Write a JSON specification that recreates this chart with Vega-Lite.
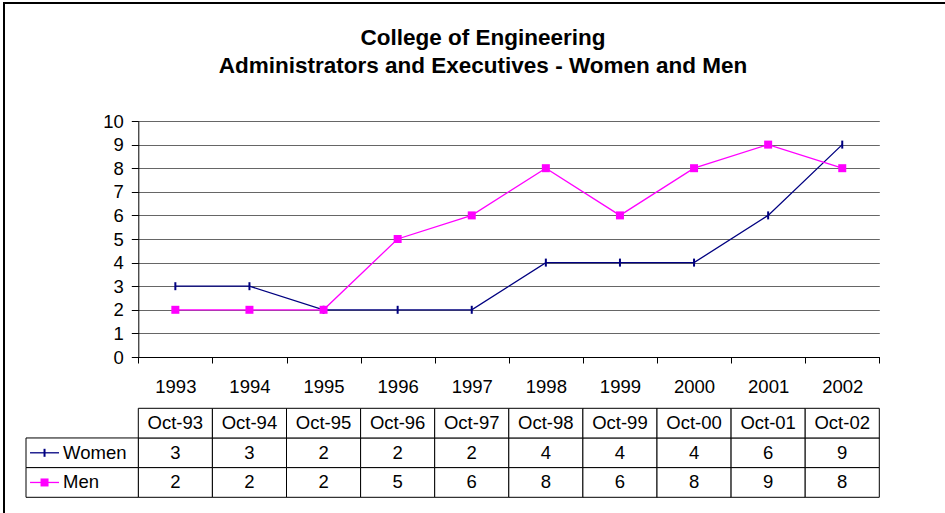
{
  "$schema": "https://vega.github.io/schema/vega-lite/v6.json",
  "width": 941,
  "height": 510,
  "autosize": {"type": "none"},
  "padding": {"left": 4, "top": 3, "right": 0, "bottom": 0},
  "background": "white",
  "config": {
    "view": {"stroke": "black", "strokeWidth": 2, "strokeDash": [941, 1451, 510], "fill": "white"},
    "font": "Liberation Sans"
  },
  "title": {
    "text": ["College of Engineering", "Administrators and Executives - Women and Men"],
    "font": "Liberation Sans",
    "fontSize": 22.5,
    "fontWeight": "bold",
    "lineHeight": 28,
    "color": "black",
    "anchor": "middle",
    "frame": "group",
    "offset": -74,
    "dx": 8.5
  },
  "datasets": {
    "counts": [
      {"year": "1993", "date": "Oct-93", "series": "Women", "value": 3},
      {"year": "1994", "date": "Oct-94", "series": "Women", "value": 3},
      {"year": "1995", "date": "Oct-95", "series": "Women", "value": 2},
      {"year": "1996", "date": "Oct-96", "series": "Women", "value": 2},
      {"year": "1997", "date": "Oct-97", "series": "Women", "value": 2},
      {"year": "1998", "date": "Oct-98", "series": "Women", "value": 4},
      {"year": "1999", "date": "Oct-99", "series": "Women", "value": 4},
      {"year": "2000", "date": "Oct-00", "series": "Women", "value": 4},
      {"year": "2001", "date": "Oct-01", "series": "Women", "value": 6},
      {"year": "2002", "date": "Oct-02", "series": "Women", "value": 9},
      {"year": "1993", "date": "Oct-93", "series": "Men", "value": 2},
      {"year": "1994", "date": "Oct-94", "series": "Men", "value": 2},
      {"year": "1995", "date": "Oct-95", "series": "Men", "value": 2},
      {"year": "1996", "date": "Oct-96", "series": "Men", "value": 5},
      {"year": "1997", "date": "Oct-97", "series": "Men", "value": 6},
      {"year": "1998", "date": "Oct-98", "series": "Men", "value": 8},
      {"year": "1999", "date": "Oct-99", "series": "Men", "value": 6},
      {"year": "2000", "date": "Oct-00", "series": "Men", "value": 8},
      {"year": "2001", "date": "Oct-01", "series": "Men", "value": 9},
      {"year": "2002", "date": "Oct-02", "series": "Men", "value": 8}
    ]
  },
  "data": {"name": "counts"},
  "resolve": {"scale": {"x": "independent", "y": "independent"}},
  "layer": [
    {
      "encoding": {
        "x": {
          "field": "year", "type": "nominal",
          "scale": {"type": "band", "domain": ["1993","1994","1995","1996","1997","1998","1999","2000","2001","2002"], "range": [134.3, 875.3], "paddingInner": 0, "paddingOuter": 0},
          "axis": {"orient": "bottom", "offset": -156, "tickBand": "extent", "tickSize": 6, "tickColor": "black", "domainColor": "black", "labelFont": "Liberation Sans", "labelFontSize": 18.5, "labelColor": "black", "labelPadding": 14, "labelAngle": 0, "title": null, "grid": false}
        },
        "y": {
          "field": "value", "type": "quantitative",
          "scale": {"domain": [0, 10], "range": [354, 118], "nice": false},
          "axis": {"orient": "left", "offset": -134.3, "values": [0,1,2,3,4,5,6,7,8,9,10], "tickSize": 7, "tickColor": "black", "domainColor": "black", "labelFont": "Liberation Sans", "labelFontSize": 18.5, "labelColor": "black", "labelPadding": 8, "title": null, "grid": true, "gridColor": "#666666", "gridWidth": 1}
        }
      },
      "layer": [
        {
          "mark": {"type": "line", "strokeWidth": 1.3},
          "encoding": {
            "color": {"field": "series", "type": "nominal", "scale": {"domain": ["Women", "Men"], "range": ["#000080", "#FF00FF"]}, "legend": null}
          }
        },
        {
          "transform": [{"filter": "datum.series === 'Women'"}],
          "mark": {"type": "point", "shape": "M0,-1V1", "size": 64, "filled": false, "stroke": "#000080", "strokeWidth": 2, "opacity": 1}
        },
        {
          "transform": [{"filter": "datum.series === 'Men'"}],
          "mark": {"type": "point", "shape": "square", "size": 64, "filled": true, "fill": "#FF00FF", "opacity": 1}
        }
      ]
    },
    {
      "encoding": {
        "x": {
          "field": "year", "type": "nominal",
          "scale": {"type": "band", "domain": ["1993","1994","1995","1996","1997","1998","1999","2000","2001","2002"], "range": [134.3, 875.3], "paddingInner": 0, "paddingOuter": 0},
          "axis": null
        },
        "y": {
          "field": "series", "type": "nominal",
          "scale": {"type": "band", "domain": ["hdr", "Women", "Men"], "range": [405.3, 494.3], "paddingInner": 0, "paddingOuter": 0},
          "axis": null
        }
      },
      "layer": [
        {"mark": {"type": "rect", "fill": "white", "stroke": "black", "strokeWidth": 1}},
        {
          "transform": [{"filter": "datum.series === 'Women'"}],
          "mark": {"type": "rect", "fill": "white", "stroke": "black", "strokeWidth": 1},
          "encoding": {"y": {"datum": "hdr", "type": "nominal"}}
        },
        {
          "mark": {"type": "text", "fontSize": 18.5, "font": "Liberation Sans", "color": "black", "baseline": "middle", "align": "center"},
          "encoding": {"text": {"field": "value", "type": "quantitative"}}
        },
        {
          "transform": [{"filter": "datum.series === 'Women'"}],
          "mark": {"type": "text", "fontSize": 18.5, "font": "Liberation Sans", "color": "black", "baseline": "middle", "align": "center"},
          "encoding": {"y": {"datum": "hdr", "type": "nominal"}, "text": {"field": "date", "type": "nominal"}}
        }
      ]
    },
    {
      "transform": [{"filter": "datum.year === '1993'"}],
      "encoding": {
        "x": {
          "datum": "label", "type": "nominal",
          "scale": {"type": "band", "domain": ["label"], "range": [22, 134.3], "paddingInner": 0, "paddingOuter": 0},
          "axis": null
        },
        "y": {
          "field": "series", "type": "nominal",
          "scale": {"type": "band", "domain": ["hdr", "Women", "Men"], "range": [405.3, 494.3], "paddingInner": 0, "paddingOuter": 0},
          "axis": null
        }
      },
      "layer": [
        {"mark": {"type": "rect", "fill": "white", "stroke": "black", "strokeWidth": 1}},
        {
          "mark": {"type": "point", "shape": "stroke", "size": 841, "filled": false, "strokeWidth": 1.3, "opacity": 1},
          "encoding": {
            "x": {"datum": "label", "type": "nominal", "bandPosition": 0.165},
            "stroke": {"field": "series", "type": "nominal", "scale": {"domain": ["Women", "Men"], "range": ["#000080", "#FF00FF"]}, "legend": null}
          }
        },
        {
          "transform": [{"filter": "datum.series === 'Women'"}],
          "mark": {"type": "point", "shape": "M0,-1V1", "size": 64, "filled": false, "stroke": "#000080", "strokeWidth": 2, "opacity": 1},
          "encoding": {"x": {"datum": "label", "type": "nominal", "bandPosition": 0.165}}
        },
        {
          "transform": [{"filter": "datum.series === 'Men'"}],
          "mark": {"type": "point", "shape": "square", "size": 64, "filled": true, "fill": "#FF00FF", "opacity": 1},
          "encoding": {"x": {"datum": "label", "type": "nominal", "bandPosition": 0.165}}
        },
        {
          "mark": {"type": "text", "fontSize": 18.5, "font": "Liberation Sans", "color": "black", "baseline": "middle", "align": "left"},
          "encoding": {
            "x": {"datum": "label", "type": "nominal", "bandPosition": 0.33},
            "text": {"field": "series", "type": "nominal"}
          }
        }
      ]
    }
  ]
}
